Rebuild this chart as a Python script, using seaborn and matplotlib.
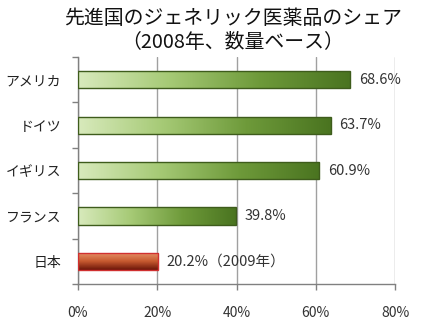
import numpy as np
import pandas as pd
import matplotlib
matplotlib.use("Agg")
import matplotlib.pyplot as plt
from matplotlib.colors import LinearSegmentedColormap
from matplotlib.ticker import FixedLocator
import seaborn as sns

countries = ["アメリカ", "ドイツ", "イギリス", "フランス", "日本"]
shares = [68.6, 63.7, 60.9, 39.8, 20.2]
value_labels = ["68.6%", "63.7%", "60.9%", "39.8%", "20.2%（2009年）"]
x_ticks = [0, 20, 40, 60, 80]
x_tick_labels = ["0%", "20%", "40%", "60%", "80%"]
title = "先進国のジェネリック医薬品のシェア\n（2008年、数量ベース）"

sns.set_theme(style="white")
plt.rcParams['font.family'] = ['Noto Sans CJK JP', 'DejaVu Sans']

df = pd.DataFrame({"country": countries, "share": shares})

fig = plt.figure(figsize=(4.48, 3.24), dpi=100)
ax = fig.add_axes([0.174, 0.123, 0.708, 0.701])

sns.barplot(data=df, x="share", y="country", orient="h", ax=ax,
            width=0.38, color="#8fb85a", saturation=1, zorder=3)

green = LinearSegmentedColormap.from_list("g", ["#d8eabc", "#a6ca76", "#6e9a3a", "#4a7420"])
red = LinearSegmentedColormap.from_list("r", ["#e8946a", "#c85a30", "#6a1408"])

ax.set_xlim(0, 80)
ax.set_ylim(4.5, -0.5)

for i, p in enumerate(ax.patches):
    x0, y0 = p.get_x(), p.get_y()
    w, h = p.get_width(), p.get_height()
    if i < 4:
        grad = np.linspace(0, 1, 256).reshape(1, -1)
        im = ax.imshow(grad, cmap=green, aspect="auto",
                       extent=[x0, x0 + w, y0 + h, y0], zorder=3.5)
        p.set_edgecolor("#3e5c1c")
    else:
        grad = np.linspace(0, 1, 256).reshape(-1, 1)
        im = ax.imshow(grad, cmap=red, aspect="auto",
                       extent=[x0, x0 + w, y0 + h, y0], zorder=3.5)
        p.set_edgecolor("#d03030")
    im.set_clip_path(p)
    p.set_facecolor("none")
    p.set_linewidth(1.0)
    p.set_zorder(4)

ax.set_xlim(0, 80)
ax.set_ylim(4.5, -0.5)

for i, (v, lab) in enumerate(zip(shares, value_labels)):
    ax.text(v + 2.2, i, lab, va="center", ha="left", fontsize=10.5, color="#333333", zorder=5)

ax.xaxis.set_major_locator(FixedLocator(x_ticks))
ax.set_xticklabels(x_tick_labels, fontsize=10, color="#333333")
ax.grid(axis="x", color="#a0a0a0", linewidth=1.0, zorder=0)
ax.set_axisbelow(True)
ax.tick_params(axis="x", bottom=True, length=4, width=1, color="#808080", pad=12)
ax.tick_params(axis="y", which="major", length=0, pad=12, labelsize=10, labelcolor="#222222")
ax.yaxis.set_minor_locator(FixedLocator([-0.5, 0.5, 1.5, 2.5, 3.5, 4.5]))
ax.tick_params(axis="y", which="minor", left=True, length=4, width=1, color="#808080")

for s in ["top", "right"]:
    ax.spines[s].set_visible(False)
for s in ["left", "bottom"]:
    ax.spines[s].set_color("#808080")
    ax.spines[s].set_linewidth(1.0)

ax.set_xlabel("")
ax.set_ylabel("")

fig.text(0.52, 0.975, title, ha="center", va="top", fontsize=14.3, color="#111111",
         linespacing=1.15)

fig.savefig("out.png", dpi=100)
